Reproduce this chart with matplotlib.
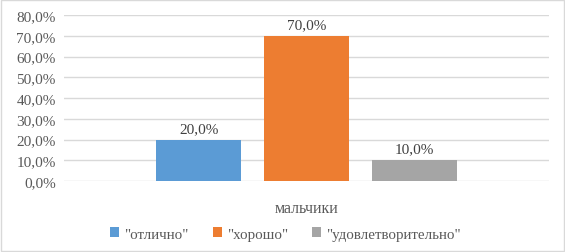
import matplotlib.pyplot as plt
from matplotlib.patches import Rectangle

plt.rcParams['font.family'] = ['Liberation Serif', 'DejaVu Serif']

category = "мальчики"
series = ['"отлично"', '"хорошо"', '"удовлетворительно"']
values = [20.0, 70.0, 10.0]
colors = ['#5b9bd5', '#ed7d31', '#a5a5a5']
yticks = [0, 10, 20, 30, 40, 50, 60, 70, 80]

fig = plt.figure(figsize=(5.65, 2.53), dpi=100)
ax = fig.add_axes([64 / 565, 1 - 182 / 253, 485 / 565, 166 / 253])

offsets = [-0.222, 0, 0.222]
for off, v, c, name in zip(offsets, values, colors, series):
    ax.bar(off, v, width=0.175, color=c, label=name, zorder=3)
    ax.text(off, v + 2.2, f"{v:.1f}%".replace('.', ','), ha='center', va='bottom',
            fontsize=11, color='#404040')

ax.set_xlim(-0.5, 0.5)
ax.set_ylim(0, 80)
ax.set_yticks(yticks)
ax.set_yticklabels([f"{t:.1f}%".replace('.', ',') for t in yticks], fontsize=11, color='#595959')
ax.set_xticks([0])
ax.set_xticklabels([category], fontsize=11.5, color='#595959')
ax.tick_params(length=0, pad=6)
ax.tick_params(axis='x', pad=14)
ax.grid(axis='y', color='#d9d9d9', linewidth=1, zorder=0)
for s in ax.spines.values():
    s.set_visible(False)

fig.legend(loc='center', bbox_to_anchor=(0.505, 1 - 235 / 253), ncol=3, frameon=False,
           fontsize=10.8, labelcolor='#595959', handlelength=0.6, handleheight=0.6,
           handletextpad=0.35, columnspacing=1.6)

fig.patches.append(Rectangle((0.002, 0.004), 0.996, 0.992, transform=fig.transFigure,
                             fill=False, edgecolor='#d9d9d9', linewidth=1))

fig.savefig('out.png', dpi=100)
